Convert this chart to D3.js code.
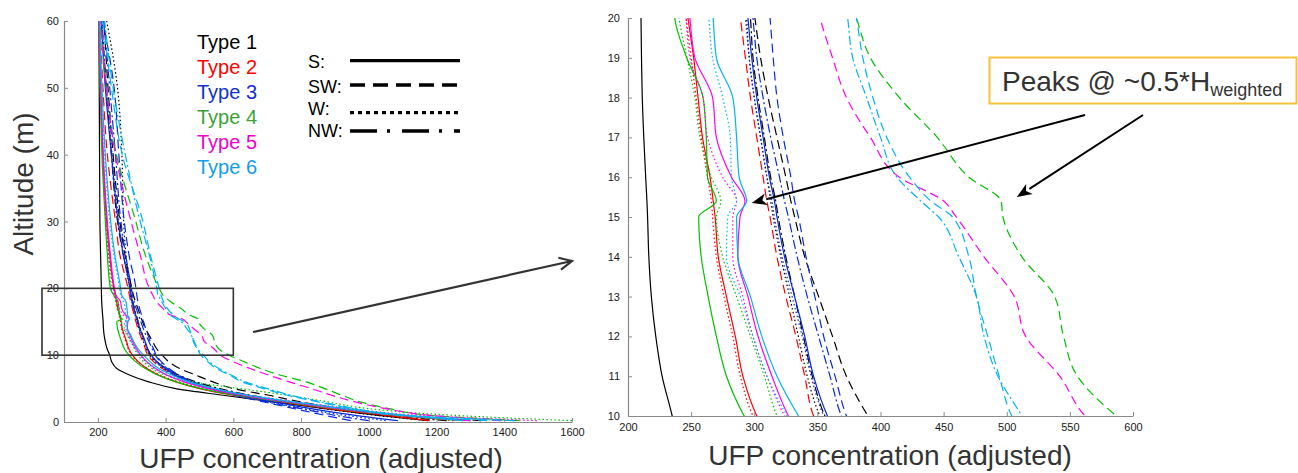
<!DOCTYPE html>
<html>
<head>
<meta charset="utf-8">
<script src="https://cdn.jsdelivr.net/npm/d3@7"></script>
<style>
  body { margin: 0; background: #fff; }
  svg { display: block; font-family: "Liberation Sans", Arial, Helvetica, sans-serif; }
</style>
</head>
<body>
<svg id="chart" width="1298" height="473"></svg>
<script>
// Altitude grid (m) shared by every profile
const altitude = [0.2, 1, 2, 3, 4, 5, 6, 7, 8, 9, 10, 11, 12, 13, 14, 15, 15.4, 16, 17, 18, 19, 20, 25, 30, 40, 50, 60];

// UFP concentration (adjusted) profiles, one per type and wind direction
const type1S  = [1175, 1030, 870, 720, 570, 430, 350, 295, 256, 241, 235, 227, 222, 218.5, 216.5, 215.5, 215, 214, 212.5, 211.3, 210.7, 210.3, 208, 206, 205, 204, 203];
const type1SW = [1333, 1080, 920, 800, 705, 600, 540, 490, 442, 410, 390, 373, 362, 351, 340, 332, 329, 325, 318, 311, 305, 300.5, 280, 265, 245, 230, 218];
const type1W  = [1175, 1020, 870, 740, 630, 545, 480, 430, 395, 370, 352, 342, 335, 328, 321, 315, 313, 310, 305, 300, 296, 294, 283, 276, 271, 258, 226];
const type1NW = [1230, 1040, 880, 760, 650, 560, 490, 440, 402, 375, 356, 346, 339, 332, 325, 319, 317, 313, 308, 303, 299, 297, 275, 258, 240, 225, 212];

const type2S  = [1180, 1050, 880, 740, 600, 500, 430, 380, 345, 320, 302, 291, 285, 278, 271.5, 269, 267.5, 265, 259, 255.5, 252, 247.5, 235, 226, 215, 208, 204];
const type2SW = [1300, 1100, 920, 770, 640, 540, 475, 425, 390, 365, 347, 340, 333, 325, 318, 312.5, 310, 307, 302, 297, 293, 289, 265, 252, 228, 215, 206];
const type2W  = [1250, 1080, 900, 760, 620, 520, 440, 385, 345, 318, 299, 289, 283, 276, 270, 267, 266, 263, 258, 254, 250, 246, 232, 224, 214, 207, 203];

const type3S  = [1086, 960, 830, 720, 620, 535, 475, 430, 400, 375, 358, 347, 340, 332, 324, 318, 316, 312, 307, 302, 298, 295, 275, 260, 240, 222, 210];
const type3SW = [947, 870, 780, 690, 605, 535, 480, 440, 410, 388, 373, 364, 355, 348, 341, 335, 332, 329, 323, 318, 315, 312.5, 292, 278, 262, 248, 215];
const type3W  = [1050, 930, 810, 705, 610, 530, 470, 425, 395, 372, 355, 345, 338, 330, 322, 316, 314, 310, 305, 300, 296, 293, 276, 262, 242, 225, 212];
const type3NW = [1000, 900, 800, 700, 610, 535, 478, 435, 405, 385, 369, 360, 351, 342, 334, 327, 324, 320, 313, 307, 302, 299, 282, 268, 252, 235, 218];

const type4S  = [1280, 1080, 900, 750, 610, 505, 432, 378, 340, 312, 292, 278, 270, 263.5, 258, 256, 270, 263, 262, 259.5, 246.5, 237, 228, 222, 212, 207, 203];
const type4SW = [1445, 1180, 1060, 975, 920, 870, 815, 740, 680, 633, 587, 556, 545, 538, 512, 497, 495.5, 470, 445, 415, 392, 381, 340, 312, 255, 225, 208];
const type4W  = [1600, 1250, 1000, 880, 760, 620, 480, 400, 360, 335, 318, 308, 297, 286, 275, 270, 273.5, 266, 257, 253, 246.7, 240.5, 231, 224, 214, 208, 204];

const type5S  = [1300, 1090, 910, 760, 625, 525, 455, 405, 370, 345, 327, 314, 303, 295, 287, 288.7, 292.7, 282, 270, 267, 253, 249, 237, 228, 216, 209, 204];
const type5SW = [1390, 1180, 1050, 960, 890, 830, 765, 705, 650, 600, 562, 542, 515, 506, 482, 460, 450, 415, 392, 373, 362, 352, 325, 298, 252, 225, 210];
const type5W  = [1496, 1150, 950, 790, 650, 540, 460, 405, 368, 342, 324, 310, 299, 291, 283, 283, 286, 275, 263, 259.4, 249, 246, 234, 225, 214, 208, 204];

const type6S  = [1278, 1110, 930, 780, 645, 545, 470, 420, 380, 355, 335, 318, 306, 297, 287, 286, 294, 288, 286, 283, 270, 267.4, 250, 238, 222, 212, 206];
const type6SW = [1430, 1100, 950, 850, 760, 690, 625, 590, 550, 525, 504, 494, 485, 476, 470, 457, 440, 423, 405, 394, 386, 381, 355, 333, 272, 240, 215];
const type6W  = [1430, 1100, 920, 770, 635, 535, 462, 410, 372, 345, 326, 310, 299, 289, 278, 279, 286, 282, 281, 275, 267, 264, 247, 235, 220, 211, 205];
const type6NW = [1350, 1100, 960, 860, 770, 700, 635, 595, 557, 530, 512, 493, 482, 476, 462, 446, 432, 413, 400, 389, 378, 374, 352, 325, 281, 245, 220];

const typeNames = ["Type 1", "Type 2", "Type 3", "Type 4", "Type 5", "Type 6"];
const directions = ["S:", "SW:", "W:", "NW:"];

// Tick values
const xTicksLeft  = [200, 400, 600, 800, 1000, 1200, 1400, 1600];
const yTicksLeft  = [0, 10, 20, 30, 40, 50, 60];
const xTicksRight = [200, 250, 300, 350, 400, 450, 500, 550, 600];
const yTicksRight = [10, 11, 12, 13, 14, 15, 16, 17, 18, 19, 20];

// Styling
const lineColors   = ["#000000", "#ff0000", "#0a2be0", "#00c000", "#ff00ee", "#00b4ee"];
const legendColors = ["#000000", "#ff0000", "#1030d0", "#3aa23a", "#ee00cc", "#10a0e8"];
const dashByDir    = { "S": null, "SW": "9,5", "W": "1.5,2.5", "NW": "9,3,2,3" };
const legendDash   = [null, "15,8", "4,4", "27,10,3,12"];

const series = [
  { type: 0, dir: "S",  values: type1S },
  { type: 0, dir: "SW", values: type1SW },
  { type: 0, dir: "W",  values: type1W },
  { type: 0, dir: "NW", values: type1NW },
  { type: 1, dir: "S",  values: type2S },
  { type: 1, dir: "SW", values: type2SW },
  { type: 1, dir: "W",  values: type2W },
  { type: 2, dir: "S",  values: type3S },
  { type: 2, dir: "SW", values: type3SW },
  { type: 2, dir: "W",  values: type3W },
  { type: 2, dir: "NW", values: type3NW },
  { type: 3, dir: "S",  values: type4S },
  { type: 3, dir: "SW", values: type4SW },
  { type: 3, dir: "W",  values: type4W },
  { type: 4, dir: "S",  values: type5S },
  { type: 4, dir: "SW", values: type5SW },
  { type: 4, dir: "W",  values: type5W },
  { type: 5, dir: "S",  values: type6S },
  { type: 5, dir: "SW", values: type6SW },
  { type: 5, dir: "W",  values: type6W },
  { type: 5, dir: "NW", values: type6NW }
];

const svg = d3.select("#chart");
const defs = svg.append("defs");
const fmt = d3.format("d");

function drawPanel(id, x, y, xTicks, yTicks, yPad, xPad) {
  const [x0, x1] = x.range();
  const [y0, y1] = y.range();
  defs.append("clipPath").attr("id", id)
    .append("rect").attr("x", x0).attr("y", y1).attr("width", x1 - x0).attr("height", y0 - y1);

  const g = svg.append("g");
  const line = d3.line()
    .x(d => x(d[1]))
    .y(d => y(d[0]))
    .curve(d3.curveMonotoneY);

  g.append("g").attr("clip-path", `url(#${id})`)
    .selectAll("path")
    .data(series)
    .join("path")
      .attr("d", s => line(altitude.map((a, i) => [a, s.values[i]])))
      .attr("fill", "none")
      .attr("stroke", s => lineColors[s.type])
      .attr("stroke-width", 1.2)
      .attr("stroke-dasharray", s => dashByDir[s.dir]);

  const ax = g.append("g").attr("transform", `translate(0,${y0})`)
    .call(d3.axisBottom(x).tickValues(xTicks).tickFormat(fmt)
      .tickSizeInner(-4).tickSizeOuter(0).tickPadding(xPad));
  const ay = g.append("g").attr("transform", `translate(${x0},0)`)
    .call(d3.axisLeft(y).tickValues(yTicks).tickFormat(fmt)
      .tickSizeInner(-4).tickSizeOuter(0).tickPadding(yPad));
  [ax, ay].forEach(a => {
    a.select(".domain").attr("stroke", "#8a8a8a").attr("stroke-width", 1.2);
    a.selectAll(".tick line").attr("stroke", "#8a8a8a");
    a.selectAll(".tick text").attr("fill", "#1a1a1a").attr("font-size", 11)
      .attr("font-family", "Liberation Sans, Arial, sans-serif");
  });
  return g;
}

// Full profile panel
const xL = d3.scaleLinear().domain([100, 1600]).range([64, 572]);
const yL = d3.scaleLinear().domain([0, 60]).range([422, 21]);
drawPanel("clipLeft", xL, yL, xTicksLeft, yTicksLeft, 5, 6);

// Zoomed 10–20 m panel
const xR = d3.scaleLinear().domain([200, 600]).range([628, 1133]);
const yR = d3.scaleLinear().domain([10, 20]).range([416, 18]);
drawPanel("clipRight", xR, yR, xTicksRight, yTicksRight, 8, 7);

// Axis titles
svg.append("text").attr("x", 321).attr("y", 468).attr("text-anchor", "middle")
  .attr("font-size", 28).attr("fill", "#333").text("UFP concentration (adjusted)");
svg.append("text").attr("x", 890).attr("y", 465).attr("text-anchor", "middle")
  .attr("font-size", 28).attr("fill", "#333").text("UFP concentration (adjusted)");
svg.append("text").attr("transform", "translate(33,184) rotate(-90)").attr("text-anchor", "middle")
  .attr("font-size", 28).attr("fill", "#333").text("Altitude (m)");

// Type legend
svg.append("g").selectAll("text").data(typeNames).join("text")
  .attr("x", 197).attr("y", (d, i) => 48.5 + i * 25.1)
  .attr("font-size", 20).attr("fill", (d, i) => legendColors[i]).text(d => d);

// Wind-direction legend
const dirLabelY = [68.3, 92.7, 115, 136.7];
const dirLineY = [60.7, 85, 112.7, 131];
const dl = svg.append("g");
dl.selectAll("text").data(directions).join("text")
  .attr("x", 308).attr("y", (d, i) => dirLabelY[i]).attr("font-size", 18).attr("fill", "#000").text(d => d);
dl.selectAll("line").data(directions).join("line")
  .attr("x1", 350).attr("x2", 460).attr("y1", (d, i) => dirLineY[i]).attr("y2", (d, i) => dirLineY[i])
  .attr("stroke", "#000").attr("stroke-width", 3.3)
  .attr("stroke-dasharray", (d, i) => legendDash[i]);

// Zoom window on the full profile panel
svg.append("rect")
  .attr("x", xL(35)).attr("y", yL(20))
  .attr("width", xL(600) - xL(35)).attr("height", yL(10) - yL(20))
  .attr("fill", "none").attr("stroke", "#333").attr("stroke-width", 1.6);

// Arrow from zoom window to the detail panel (open head)
function openArrow(x1, y1, x2, y2, len, spread) {
  const ang = Math.atan2(y2 - y1, x2 - x1);
  const p = d3.path();
  p.moveTo(x1, y1); p.lineTo(x2, y2);
  p.moveTo(x2 - len * Math.cos(ang - spread), y2 - len * Math.sin(ang - spread));
  p.lineTo(x2, y2);
  p.lineTo(x2 - len * Math.cos(ang + spread), y2 - len * Math.sin(ang + spread));
  svg.append("path").attr("d", p.toString()).attr("fill", "none")
    .attr("stroke", "#333").attr("stroke-width", 2.2);
}
openArrow(253, 332, 572, 261, 14, 0.45);

// Filled arrows pointing at the peaks
function solidArrow(x1, y1, x2, y2) {
  const ang = Math.atan2(y2 - y1, x2 - x1);
  const len = 15, half = 6;
  const bx = x2 - len * Math.cos(ang), by = y2 - len * Math.sin(ang);
  svg.append("line").attr("x1", x1).attr("y1", y1).attr("x2", bx).attr("y2", by)
    .attr("stroke", "#000").attr("stroke-width", 2);
  svg.append("path")
    .attr("d", `M${x2},${y2}L${bx + half * Math.sin(ang)},${by - half * Math.cos(ang)}` +
               `L${bx + 4 * Math.cos(ang)},${by + 4 * Math.sin(ang)}` +
               `L${bx - half * Math.sin(ang)},${by + half * Math.cos(ang)}Z`)
    .attr("fill", "#000");
}
solidArrow(1085, 115, xR(298), yR(15.35));
solidArrow(1143, 115, xR(508), yR(15.5));

// Peak annotation box
svg.append("rect").attr("x", 989.5).attr("y", 57.5).attr("width", 307).attr("height", 46)
  .attr("fill", "#fff").attr("stroke", "#f8c13a").attr("stroke-width", 2);
const note = svg.append("text").attr("x", 1002).attr("y", 91).attr("font-size", 28).attr("fill", "#333");
note.append("tspan").text("Peaks @ ~0.5*H");
note.append("tspan").attr("font-size", 18).attr("dy", 5).text("weighted");
</script>
</body>
</html>
